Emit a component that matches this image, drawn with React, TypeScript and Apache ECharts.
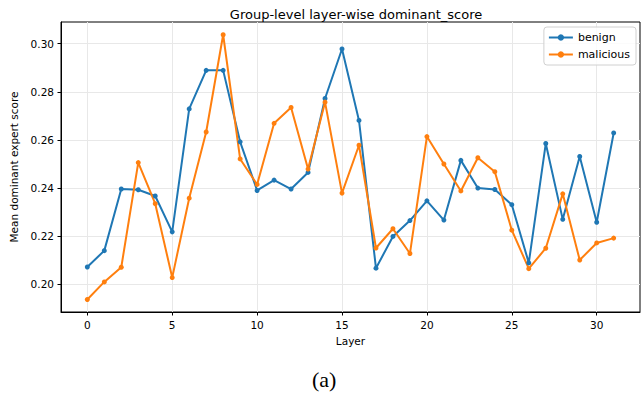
import React, { useEffect, useRef } from "react";
import * as echarts from "echarts";

const layers = [0, 1, 2, 3, 4, 5, 6, 7, 8, 9, 10, 11, 12, 13, 14, 15, 16, 17, 18, 19, 20, 21, 22, 23, 24, 25, 26, 27, 28, 29, 30, 31];
const benign = [0.2072, 0.2140, 0.2396, 0.2393, 0.2367, 0.2218, 0.2729, 0.2889, 0.2889, 0.2592, 0.2390, 0.2433, 0.2396, 0.2465, 0.2772, 0.2978, 0.2681, 0.2067, 0.2199, 0.2265, 0.2347, 0.2267, 0.2515, 0.2400, 0.2394, 0.2331, 0.2089, 0.2585, 0.2270, 0.2531, 0.2258, 0.2629];
const malicious = [0.1937, 0.2010, 0.2071, 0.2506, 0.2335, 0.2028, 0.2358, 0.2633, 0.3037, 0.2521, 0.2415, 0.2669, 0.2735, 0.2479, 0.2757, 0.2379, 0.2578, 0.2151, 0.2231, 0.2128, 0.2614, 0.2500, 0.2388, 0.2526, 0.2468, 0.2225, 0.2065, 0.2150, 0.2376, 0.2101, 0.2172, 0.2192];
const xTicks = [0, 5, 10, 15, 20, 25, 30];
const yTicks = [0.2, 0.22, 0.24, 0.26, 0.28, 0.3];

const FONT = "DejaVu Sans";

export default function App() {
  const ref = useRef<HTMLDivElement>(null);
  useEffect(() => {
    if (!ref.current) return;
    const chart = echarts.init(ref.current, undefined, { renderer: "svg" });
    const mk = (vals: number[]) => layers.map((l, i) => [l, vals[i]]);
    chart.setOption({
      animation: false,
      backgroundColor: "#fff",
      title: {
        text: "Group-level layer-wise dominant_score",
        left: 351,
        textAlign: "center",
        top: 3,
        textStyle: { fontFamily: FONT, fontSize: 13, fontWeight: "normal", color: "#000" },
      },
      legend: {
        orient: "vertical",
        right: 5,
        top: 27,
        itemWidth: 24,
        itemHeight: 8,
        itemGap: 6,
        padding: [5, 6, 5, 4],
        borderColor: "#d0d0d0",
        borderWidth: 1,
        borderRadius: 3,
        backgroundColor: "rgba(255,255,255,0.8)",
        textStyle: { fontFamily: FONT, fontSize: 11, color: "#000" },
        data: ["benign", "malicious"],
      },
      grid: {
        left: 61,
        right: 1,
        top: 22,
        bottom: 86,
        show: true,
        borderColor: "#000",
        borderWidth: 1,
        backgroundColor: "transparent",
      },
      xAxis: {
        type: "value",
        min: -1.55,
        max: 32.55,
        name: "Layer",
        nameLocation: "middle",
        nameGap: 23,
        nameTextStyle: { fontFamily: FONT, fontSize: 10.5, color: "#000" },
        axisLine: { show: true, onZero: false, lineStyle: { color: "#000", width: 1 } },
        axisTick: { show: true, inside: false, length: 3.5, customValues: xTicks, lineStyle: { color: "#000" } },
        axisLabel: { customValues: xTicks, fontFamily: FONT, fontSize: 10.5, color: "#000", margin: 7 },
        splitLine: { show: true, lineStyle: { color: "#e8e8e8", width: 1 } },
      },
      yAxis: {
        type: "value",
        min: 0.1885,
        max: 0.309,
        name: "Mean dominant expert score",
        nameLocation: "middle",
        nameGap: 42,
        nameTextStyle: { fontFamily: FONT, fontSize: 10.5, color: "#000" },
        axisLine: { show: true, onZero: false, lineStyle: { color: "#000", width: 1 } },
        axisTick: { show: true, inside: false, length: 3.5, customValues: yTicks, lineStyle: { color: "#000" } },
        axisLabel: {
          customValues: yTicks,
          fontFamily: FONT,
          fontSize: 10.5,
          color: "#000",
          margin: 7,
          formatter: (v: number) => v.toFixed(2),
        },
        splitLine: { show: true, lineStyle: { color: "#e8e8e8", width: 1 } },
      },
      series: [
        {
          name: "benign",
          type: "line",
          data: mk(benign),
          symbol: "circle",
          symbolSize: 5,
          itemStyle: { color: "#1f77b4" },
          lineStyle: { color: "#1f77b4", width: 2 },
        },
        {
          name: "malicious",
          type: "line",
          data: mk(malicious),
          symbol: "circle",
          symbolSize: 5,
          itemStyle: { color: "#ff7f0e" },
          lineStyle: { color: "#ff7f0e", width: 2 },
        },
      ],
      graphic: [
        {
          type: "text",
          left: 312,
          top: 368,
          style: { text: "(a)", fontFamily: "Liberation Serif", fontSize: 22, fill: "#000" },
        },
      ],
    });
    return () => chart.dispose();
  }, []);
  return <div ref={ref} style={{ width: 641, height: 398, position: "absolute", left: 0, top: 0 }} />;
}
